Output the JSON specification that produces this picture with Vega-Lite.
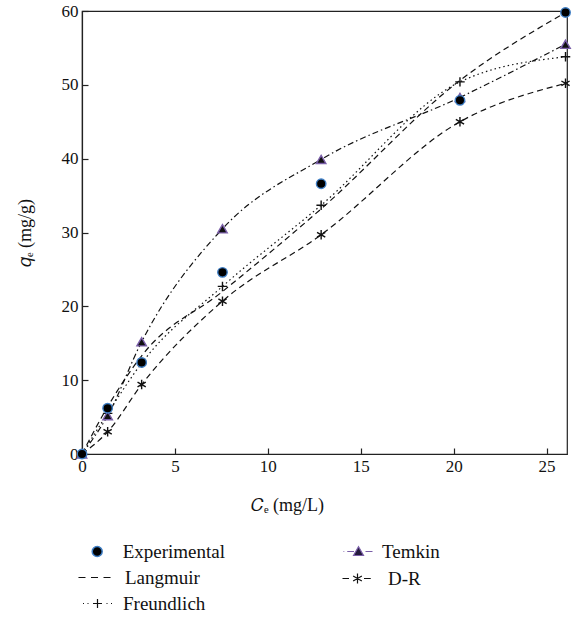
{
  "$schema": "https://vega.github.io/schema/vega-lite/v6.json",
  "width": 485,
  "height": 443,
  "autosize": {"type": "none"},
  "padding": {"left": 82, "top": 11, "right": 5, "bottom": 163},
  "background": "white",
  "config": {
    "view": {"stroke": "#222", "strokeWidth": 1.2},
    "font": "Liberation Serif",
    "axis": {
      "grid": false,
      "domainColor": "#222",
      "domainWidth": 1.2,
      "tickColor": "#222",
      "tickWidth": 1.2,
      "tickSize": -6,
      "labelFont": "Liberation Serif",
      "labelFontSize": 17,
      "labelColor": "#111",
      "labelFlush": false,
      "labelOverlap": false,
      "titleFont": "Liberation Serif",
      "titleFontSize": 18,
      "titleFontWeight": "normal",
      "titleColor": "#111"
    },
    "legend": {
      "labelFont": "Liberation Serif",
      "labelFontSize": 19,
      "labelColor": "#111",
      "padding": 0,
      "symbolSize": 100,
      "symbolOpacity": 1,
      "symbolDash": [],
      "title": null,
      "orient": "none",
      "direction": "vertical"
    }
  },
  "data": {
    "values": [
      {"series": "Langmuir", "Ce": 0, "qe": 0},
      {"series": "Langmuir", "Ce": 1.38, "qe": 6.4},
      {"series": "Langmuir", "Ce": 3.21, "qe": 13.3},
      {"series": "Langmuir", "Ce": 7.56, "qe": 22.0},
      {"series": "Langmuir", "Ce": 12.87, "qe": 33.2},
      {"series": "Langmuir", "Ce": 20.34, "qe": 50.6},
      {"series": "Langmuir", "Ce": 26.02, "qe": 59.8},
      {"series": "Freundlich", "Ce": 0, "qe": 0},
      {"series": "Freundlich", "Ce": 1.38, "qe": 5.5},
      {"series": "Freundlich", "Ce": 3.21, "qe": 12.3},
      {"series": "Freundlich", "Ce": 7.56, "qe": 22.7},
      {"series": "Freundlich", "Ce": 12.87, "qe": 33.7},
      {"series": "Freundlich", "Ce": 20.34, "qe": 50.4},
      {"series": "Freundlich", "Ce": 26.02, "qe": 53.8},
      {"series": "Temkin", "Ce": 0, "qe": 0},
      {"series": "Temkin", "Ce": 1.38, "qe": 5.2},
      {"series": "Temkin", "Ce": 3.21, "qe": 15.2},
      {"series": "Temkin", "Ce": 7.56, "qe": 30.5},
      {"series": "Temkin", "Ce": 12.87, "qe": 39.9},
      {"series": "Temkin", "Ce": 20.34, "qe": 48.3},
      {"series": "Temkin", "Ce": 26.02, "qe": 55.5},
      {"series": "D-R", "Ce": 0, "qe": 0},
      {"series": "D-R", "Ce": 1.38, "qe": 3.0},
      {"series": "D-R", "Ce": 3.21, "qe": 9.4},
      {"series": "D-R", "Ce": 7.56, "qe": 20.7},
      {"series": "D-R", "Ce": 12.87, "qe": 29.7},
      {"series": "D-R", "Ce": 20.34, "qe": 45.0},
      {"series": "D-R", "Ce": 26.02, "qe": 50.2},
      {"series": "Experimental", "Ce": 0, "qe": 0},
      {"series": "Experimental", "Ce": 1.38, "qe": 6.2},
      {"series": "Experimental", "Ce": 3.21, "qe": 12.4},
      {"series": "Experimental", "Ce": 7.56, "qe": 24.6},
      {"series": "Experimental", "Ce": 12.87, "qe": 36.6},
      {"series": "Experimental", "Ce": 20.34, "qe": 47.9},
      {"series": "Experimental", "Ce": 26.02, "qe": 59.8}
    ]
  },
  "layer": [
    {
      "transform": [{"filter": "datum.series !== 'Experimental'"}],
      "mark": {"type": "line", "interpolate": "monotone", "color": "#111"},
      "encoding": {
        "x": {
          "field": "Ce", "type": "quantitative",
          "scale": {"domain": [0, 26.1], "nice": false, "zero": false},
          "axis": {"values": [0, 5, 10, 15, 20, 25], "title": "𝐶ₑ (mg/L)", "labelPadding": 10, "titleX": 205, "titleY": 51, "titleBaseline": "middle", "titleAlign": "center"}
        },
        "y": {
          "field": "qe", "type": "quantitative",
          "scale": {"domain": [0, 60], "nice": false},
          "axis": {"values": [0, 10, 20, 30, 40, 50, 60], "title": "𝑞ₑ (mg/g)", "labelPadding": 10, "titleX": -57, "titleBaseline": "middle"}
        },
        "strokeDash": {
          "field": "series", "type": "nominal",
          "scale": {"domain": ["Langmuir", "Freundlich", "Temkin", "D-R"], "range": [[6, 4], [1.5, 3], [6, 3, 1.5, 3], [6, 4]]},
          "legend": null
        },
        "strokeWidth": {
          "field": "series", "type": "nominal",
          "scale": {"domain": ["D-R", "Temkin", "Langmuir", "Freundlich"], "range": [1.2, 1.2, 1.2, 1.2]},
          "legend": {
            "values": ["D-R"],
            "legendX": 266,
            "legendY": 558,
            "labelOffset": 21,
            "symbolType": "M-3.0,0H-1.7M0,-1V1M-0.87,-0.5L0.87,0.5M-0.87,0.5L0.87,-0.5M1.3,0H2.65",
            "symbolFillColor": "transparent",
            "symbolStrokeColor": "#111"
          }
        }
      }
    },
    {
      "transform": [{"filter": "datum.series !== 'Langmuir'"}],
      "mark": {"type": "point", "filled": true, "strokeWidth": 1.4},
      "encoding": {
        "x": {"field": "Ce", "type": "quantitative"},
        "y": {"field": "qe", "type": "quantitative"},
        "shape": {
          "field": "series", "type": "nominal",
          "scale": {
            "domain": ["Experimental", "Freundlich", "Temkin", "D-R"],
            "range": ["circle", "M-1,0H1M0,-1V1", "triangle-up", "M0,-1V1M-0.87,-0.5L0.87,0.5M-0.87,0.5L0.87,-0.5"]
          },
          "legend": null
        },
        "fill": {
          "field": "series", "type": "nominal",
          "scale": {"domain": ["Freundlich", "Temkin", "Experimental", "D-R"], "range": ["#000", "#111", "#000", "#000"]},
          "legend": {
            "values": ["Freundlich"],
            "legendX": 6,
            "legendY": 583,
            "labelOffset": 16,
            "symbolType": "M-2.9,0H-2.7M-2.0,0H-1.8M1.8,0H2.0M2.7,0H2.9M-0.9,0H0.9M0,-0.9V0.9",
            "symbolStrokeColor": "#111",
            "symbolStrokeWidth": 1.2
          }
        },
        "stroke": {
          "field": "series", "type": "nominal",
          "scale": {"domain": ["Temkin", "D-R", "Experimental", "Freundlich"], "range": ["#7a5ea8", "#111", "#3f7fc6", "#111"]},
          "legend": {
            "values": ["Temkin"],
            "legendX": 267,
            "legendY": 531,
            "labelOffset": 14,
            "symbolType": "M-3.0,0H-2.85M-2.25,0H-0.9M-1,0.8L0,-0.95L1,0.8ZM1.4,0H2.8",
            "symbolFillColor": "#241a3c",
            "symbolStrokeWidth": 1.2
          }
        },
        "size": {
          "field": "series", "type": "nominal",
          "scale": {"domain": ["Langmuir", "Experimental", "Freundlich", "Temkin", "D-R"], "range": [90, 90, 90, 90, 90]},
          "legend": {
            "values": ["Langmuir"],
            "legendX": 3,
            "legendY": 557,
            "labelOffset": 21,
            "symbolType": "M-3.38,0H-1.9M-0.74,0H0.74M1.9,0H3.38",
            "symbolFillColor": "transparent",
            "symbolStrokeColor": "#111",
            "symbolStrokeWidth": 1.2
          }
        },
        "opacity": {
          "field": "series", "type": "nominal",
          "scale": {"domain": ["Experimental", "Langmuir", "Freundlich", "Temkin", "D-R"], "range": [1, 1, 1, 1, 1]},
          "legend": {
            "values": ["Experimental"],
            "legendX": 5.7,
            "legendY": 531,
            "labelOffset": 16,
            "symbolType": "circle",
            "symbolFillColor": "#000",
            "symbolStrokeColor": "#3f7fc6",
            "symbolStrokeWidth": 1.5
          }
        }
      }
    }
  ]
}
